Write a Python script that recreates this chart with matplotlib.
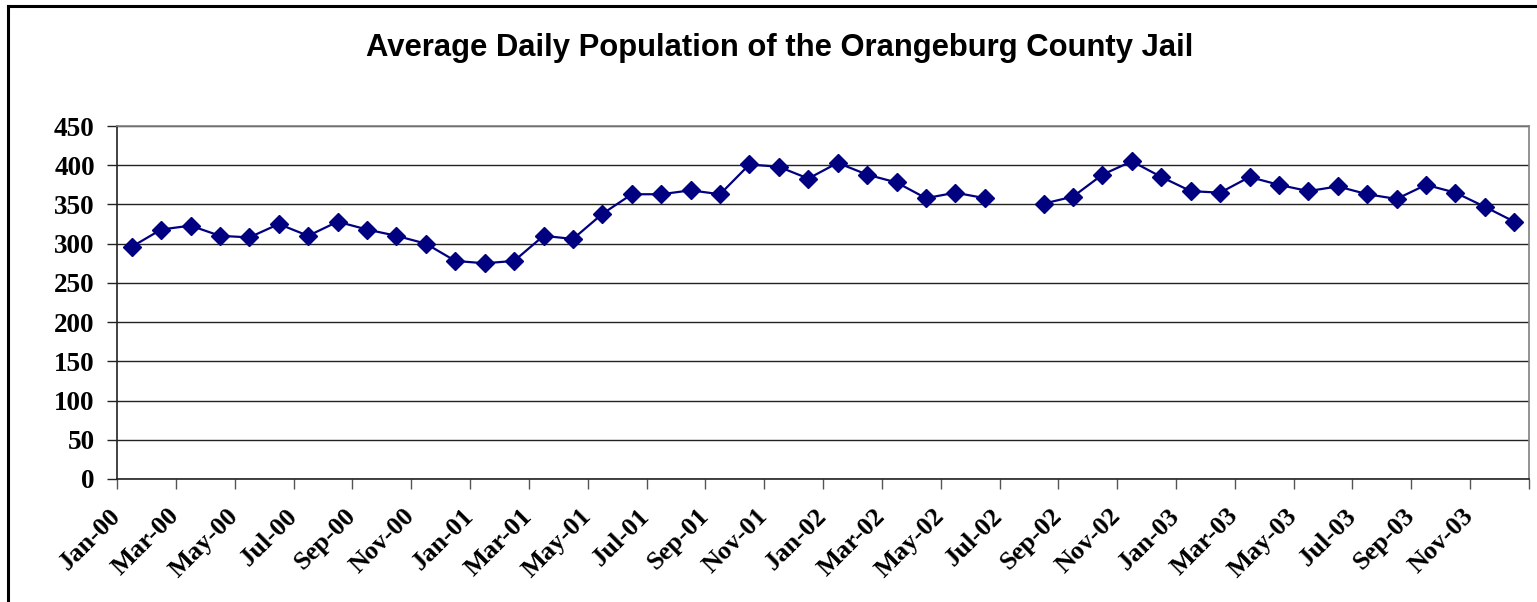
import numpy as np
import matplotlib
matplotlib.use('Agg')
import matplotlib.pyplot as plt
from matplotlib.lines import Line2D

# Monthly average daily population, Jan-00 .. Dec-03 (Jul-02 missing)
months = ['Jan-00', 'Feb-00', 'Mar-00', 'Apr-00', 'May-00', 'Jun-00', 'Jul-00', 'Aug-00',
          'Sep-00', 'Oct-00', 'Nov-00', 'Dec-00',
          'Jan-01', 'Feb-01', 'Mar-01', 'Apr-01', 'May-01', 'Jun-01', 'Jul-01', 'Aug-01',
          'Sep-01', 'Oct-01', 'Nov-01', 'Dec-01',
          'Jan-02', 'Feb-02', 'Mar-02', 'Apr-02', 'May-02', 'Jun-02', 'Jul-02', 'Aug-02',
          'Sep-02', 'Oct-02', 'Nov-02', 'Dec-02',
          'Jan-03', 'Feb-03', 'Mar-03', 'Apr-03', 'May-03', 'Jun-03', 'Jul-03', 'Aug-03',
          'Sep-03', 'Oct-03', 'Nov-03', 'Dec-03']
pop_2000 = [296, 318, 323, 310, 308, 325, 310, 328, 318, 310, 300, 278]
pop_2001 = [275, 278, 310, 306, 338, 363, 363, 368, 363, 401, 398, 383]
pop_2002 = [403, 388, 378, 358, 365, 358, np.nan, 351, 360, 388, 405, 385]
pop_2003 = [367, 365, 385, 375, 367, 373, 363, 357, 375, 365, 347, 328]
population = pop_2000 + pop_2001 + pop_2002 + pop_2003

y_ticks = [0, 50, 100, 150, 200, 250, 300, 350, 400, 450]
x_labels = months[::2]  # every other month labelled

W, H = 1537, 602
fig = plt.figure(figsize=(W / 100, H / 100), dpi=100)
ax = fig.add_axes([117 / W, 1 - 479 / H, (1529 - 117) / W, (479 - 126) / H])

x = np.arange(len(population))
ax.plot(x, population, color='#000080', lw=1.6, marker='D', markersize=9.5,
        markerfacecolor='#000080', markeredgecolor='#000080', clip_on=False, zorder=3)

ax.set_xlim(-0.5, len(population) - 0.5)
ax.set_ylim(0, 450)

# y axis
ax.set_yticks(y_ticks)
ax.set_yticklabels([str(v) for v in y_ticks], fontfamily='Liberation Serif',
                   fontweight='bold', fontsize=19.5)
ax.yaxis.grid(True, color='#222222', lw=1)
ax.set_axisbelow(True)

# x axis: ticks at category boundaries, labels every two months
tick_pos = np.arange(-0.5, len(population), 2)
ax.set_xticks(tick_pos)
ax.set_xticklabels(x_labels + [''] * (len(tick_pos) - len(x_labels)),
                   fontfamily='Liberation Serif', fontweight='bold', fontsize=19,
                   rotation=45, ha='right', va='center', rotation_mode='anchor')
ax.tick_params(axis='x', direction='out', length=7, width=1, color='#555555', pad=17)
ax.tick_params(axis='y', direction='out', length=7, width=1, color='#222222', pad=9)

for s in ['left', 'bottom']:
    ax.spines[s].set_color('#222222')
    ax.spines[s].set_linewidth(1.2)
for s in ['top', 'right']:
    ax.spines[s].set_color('#808080')
    ax.spines[s].set_linewidth(1.2)

fig.text(780 / W, 1 - 48 / H, 'Average Daily Population of the Orangeburg County Jail',
         ha='center', va='center', fontfamily='Liberation Sans', fontweight='bold',
         fontsize=22.3)

# outer chart border (cropped at right and bottom)
fig.add_artist(Line2D([8 / W, 8 / W], [-0.05, 1 - 5.5 / H], color='black', lw=2.2))
fig.add_artist(Line2D([8 / W, 1.05], [1 - 5.5 / H, 1 - 5.5 / H], color='black', lw=2.2))

fig.savefig('out.png', dpi=100)
